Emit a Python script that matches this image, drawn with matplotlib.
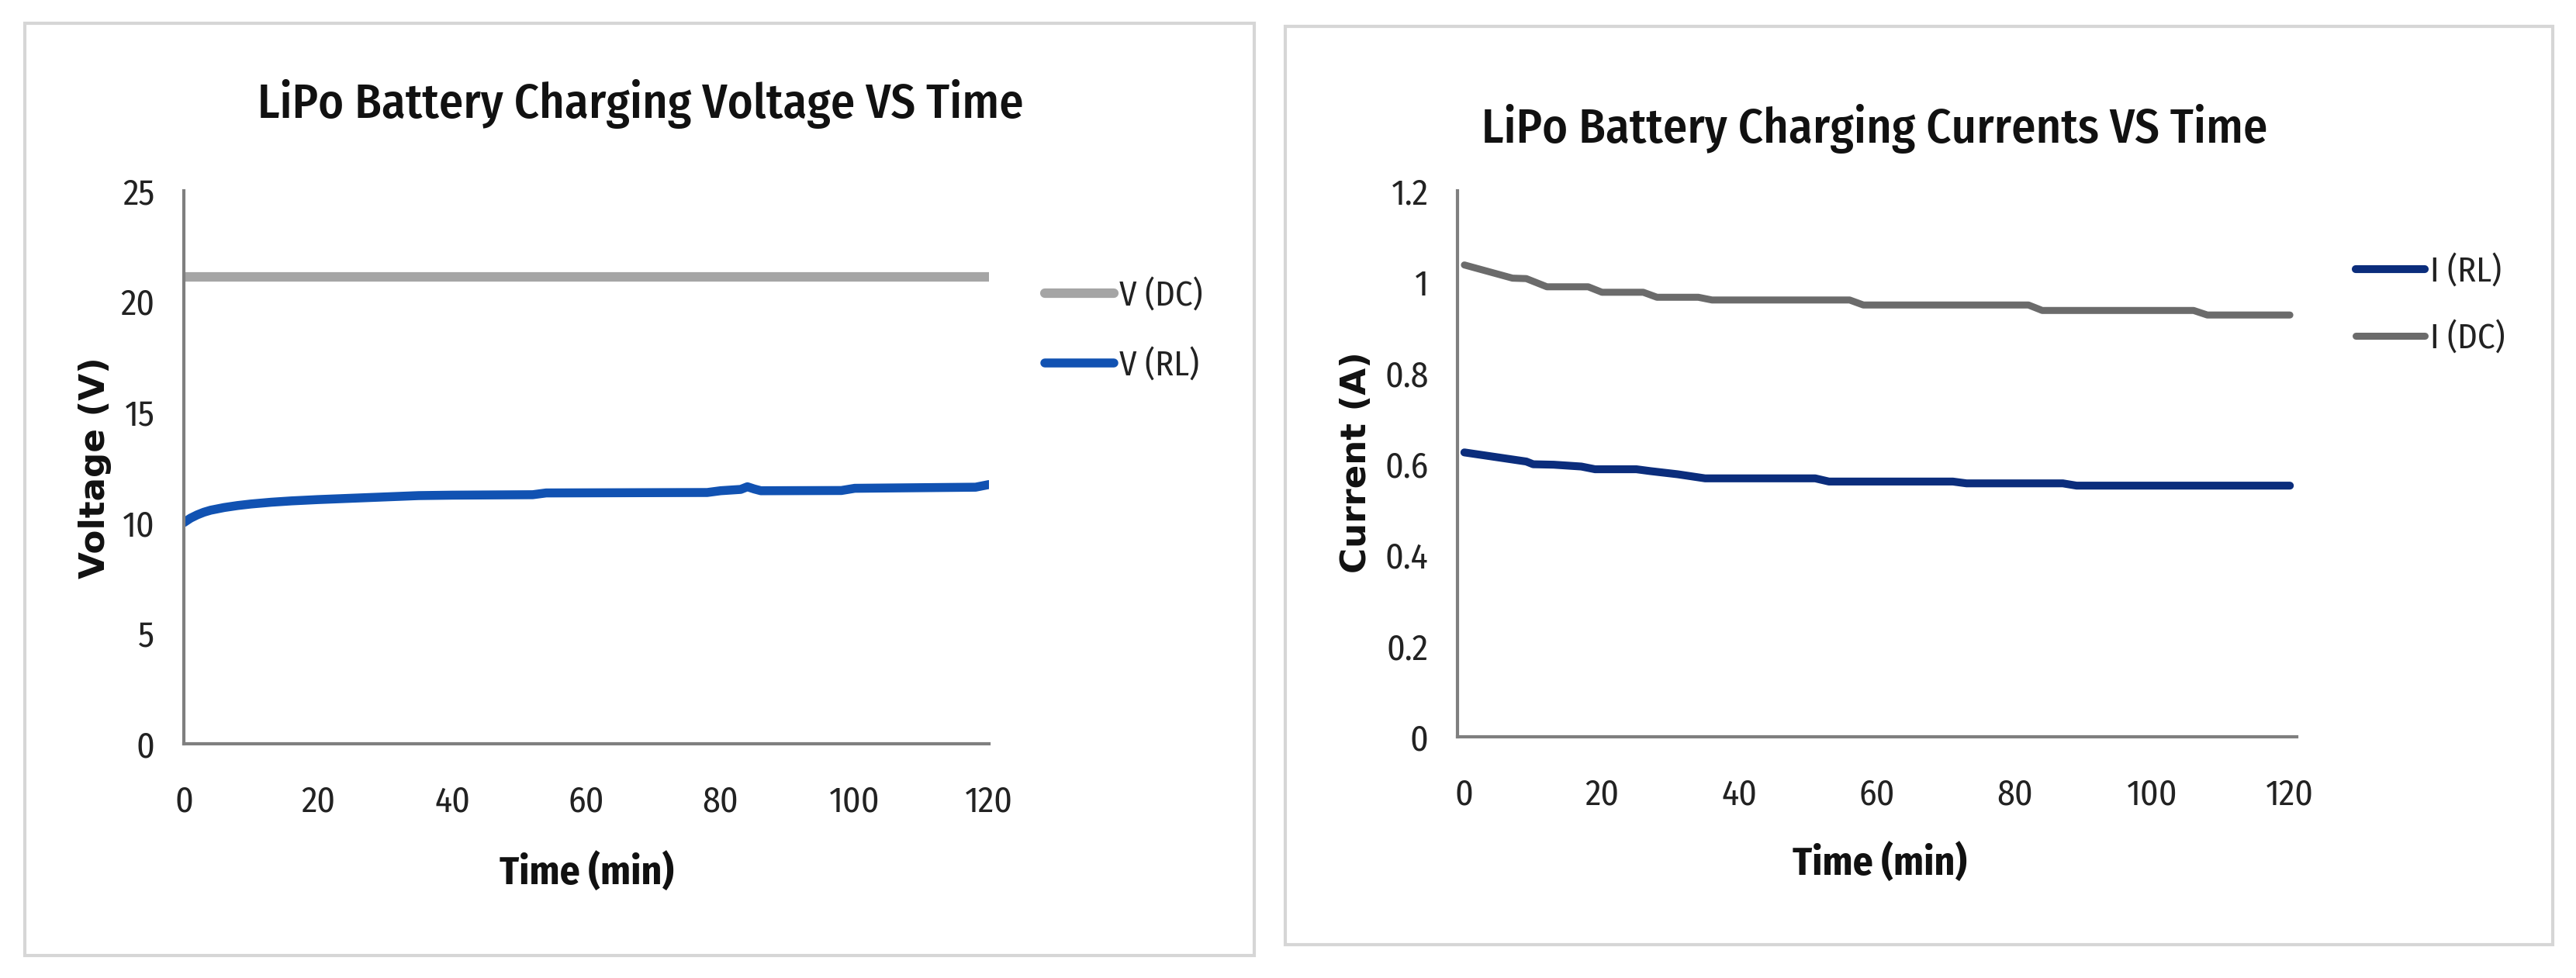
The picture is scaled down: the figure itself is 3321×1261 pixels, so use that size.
import matplotlib
matplotlib.use("Agg")
import matplotlib.pyplot as plt
from matplotlib import font_manager as fm
from matplotlib.patches import Rectangle

# voltage chart data
t_volt = [0, 1, 2, 3, 4, 6, 8, 10, 13, 16, 20, 25, 30, 35, 40, 52, 54, 78, 80, 83, 84, 85, 86, 98, 100, 118, 120]
v_rl = [10.0, 10.2, 10.35, 10.47, 10.56, 10.68, 10.77, 10.84, 10.92, 10.98, 11.04, 11.1, 11.16, 11.22, 11.24,
        11.26, 11.34, 11.36, 11.44, 11.5, 11.62, 11.52, 11.44, 11.45, 11.55, 11.6, 11.72]
t_vdc = [0, 120]
v_dc = [21.1, 21.1]

# current chart data
t_idc = [0, 7, 9, 12, 18, 20, 26, 28, 34, 36, 56, 58, 82, 84, 106, 108, 120]
i_dc = [1.037, 1.008, 1.007, 0.989, 0.989, 0.977, 0.977, 0.966, 0.966, 0.96, 0.96, 0.949, 0.949,
        0.937, 0.937, 0.927, 0.927]
t_irl = [0, 9, 10, 13, 17, 19, 25, 27, 31, 35, 51, 53, 71, 73, 87, 89, 120]
i_rl = [0.625, 0.605, 0.599, 0.598, 0.594, 0.588, 0.588, 0.584, 0.577, 0.568, 0.568, 0.561, 0.561,
        0.557, 0.557, 0.552, 0.552]

x_ticks = [0, 20, 40, 60, 80, 100, 120]
v_ticks = [0, 5, 10, 15, 20, 25]
i_ticks = [0, 0.2, 0.4, 0.6, 0.8, 1.0, 1.2]
i_tick_labels = ["0", "0.2", "0.4", "0.6", "0.8", "1", "1.2"]

W, H = 3321, 1261

# a narrow face close to the excel look
available = {f.name for f in fm.fontManager.ttflist}
narrow = "DejaVu Sans"
for name in ["Liberation Sans Narrow", "Fira Sans Condensed", "Roboto Condensed", "Open Sans Condensed",
             "Pragati Narrow"]:
    if name in available:
        narrow = name
        break
NARROW = [narrow, "DejaVu Sans"]

fig = plt.figure(figsize=(W / 100, H / 100), dpi=100)
fig.patch.set_facecolor("white")


def fx(px):
    return px / W


def fy(py):
    return 1 - py / H


# panel borders
fig.patches.append(Rectangle((fx(32), fy(1232)), fx(1617) - fx(32), fy(30) - fy(1232),
                             transform=fig.transFigure, fill=False, edgecolor="#d6d6d6", lw=3))
fig.patches.append(Rectangle((fx(1657), fy(1218)), fx(3291) - fx(1657), fy(34) - fy(1218),
                             transform=fig.transFigure, fill=False, edgecolor="#d6d6d6", lw=3))

ax1 = fig.add_axes([fx(237), fy(959), fx(1275) - fx(237), fy(246) - fy(959)])
ax2 = fig.add_axes([fx(1879), fy(950), fx(2961) - fx(1879), fy(246) - fy(950)])


def style(ax):
    for s in ["top", "right"]:
        ax.spines[s].set_visible(False)
    for s in ["left", "bottom"]:
        ax.spines[s].set_color("#7f7f7f")
        ax.spines[s].set_linewidth(3)
    ax.tick_params(length=0, labelsize=33, labelcolor="#222222")
    ax.tick_params(axis="x", pad=38)
    ax.tick_params(axis="y", pad=27)
    for lab in ax.get_xticklabels() + ax.get_yticklabels():
        lab.set_family(NARROW)


# voltage
ax1.plot(t_vdc, v_dc, color="#a5a5a5", lw=8.8, solid_capstyle="round", label="V (DC)")
ax1.plot(t_volt, v_rl, color="#1152b2", lw=8.3, solid_capstyle="round", label="V (RL)")
ax1.set_xlim(0, 120)
ax1.set_ylim(0, 25)
ax1.set_xticks(x_ticks)
ax1.set_yticks(v_ticks)
style(ax1)

# current
ax2.plot(t_irl, i_rl, color="#0b2d7c", lw=7.3, solid_capstyle="round", label="I (RL)")
ax2.plot(t_idc, i_dc, color="#6b6b6b", lw=6.5, solid_capstyle="round", label="I (DC)")
ax2.set_xlim(-1, 121)
ax2.set_ylim(0, 1.2)
ax2.set_xticks(x_ticks)
ax2.set_yticks(i_ticks)
ax2.set_yticklabels(i_tick_labels)
style(ax2)

# titles
fig.text(fx(826), fy(152), "LiPo Battery Charging Voltage VS Time", ha="center", va="baseline",
         fontsize=45, fontweight=500, family=NARROW, color="#111111")
fig.text(fx(2417), fy(184), "LiPo Battery Charging Currents VS Time", ha="center", va="baseline",
         fontsize=45, fontweight=500, family=NARROW, color="#111111")

# axis labels
for ax, xl_x, xl_y, yl, yl_x, yl_y in [(ax1, 756, 1140, "Voltage (V)", 122, 603),
                                       (ax2, 2423, 1128, "Current (A)", 1748, 596)]:
    ax.set_xlabel("Time (min)", fontsize=37, fontweight="bold", family=NARROW, color="#111111")
    ax.xaxis.set_label_coords(fx(xl_x), fy(xl_y), transform=fig.transFigure)
    ax.xaxis.label.set_va("baseline")
    ax.set_ylabel(yl, fontsize=32.5, fontweight="bold", family="DejaVu Sans", color="#111111")
    ax.yaxis.set_label_coords(fx(yl_x), fy(yl_y), transform=fig.transFigure)
    ax.yaxis.label.set_va("center")

# legends
leg1 = ax1.legend(loc="center left", bbox_to_anchor=(fx(1347), fy(426)), bbox_transform=fig.transFigure,
                  frameon=False, borderpad=0, borderaxespad=0, handlelength=2.0, handletextpad=0.15,
                  labelspacing=1.05, prop={"family": NARROW, "size": 32})
leg2 = ax2.legend(loc="center left", bbox_to_anchor=(fx(3037), fy(393)), bbox_transform=fig.transFigure,
                  frameon=False, borderpad=0, borderaxespad=0, handlelength=2.0, handletextpad=0.15,
                  labelspacing=0.95, prop={"family": NARROW, "size": 32})
for leg in (leg1, leg2):
    for t in leg.get_texts():
        t.set_color("#222222")

fig.savefig("out.png", dpi=100, facecolor="white")
